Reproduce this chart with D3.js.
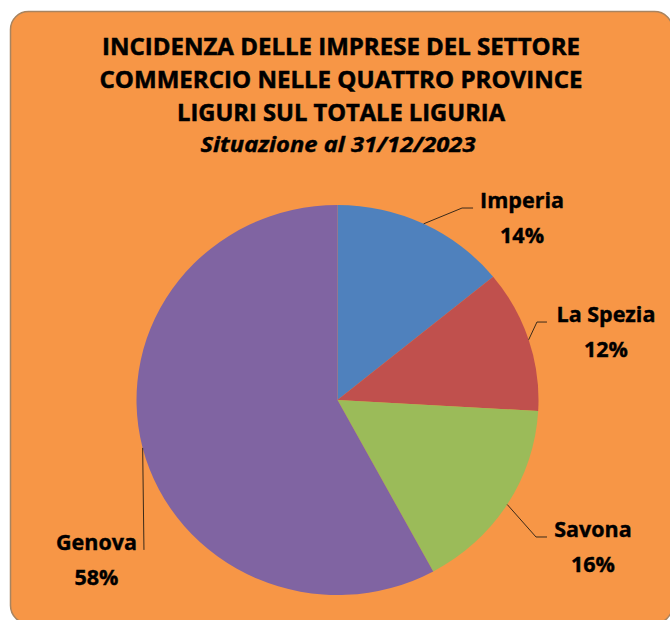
<!DOCTYPE html>
<html><head><meta charset="utf-8">
<script src="https://cdn.jsdelivr.net/npm/d3@7"></script>
<style>html,body{margin:0;padding:0;background:#fff;}svg{display:block;}</style>
</head><body>
<svg id="c" width="670" height="620"></svg>
<script>
const titleLines = ["INCIDENZA DELLE IMPRESE DEL SETTORE","COMMERCIO NELLE QUATTRO  PROVINCE","LIGURI SUL TOTALE LIGURIA"];
const subtitle = "Situazione al 31/12/2023";
const categories = ["Imperia","La Spezia","Savona","Genova"];
const values = [14.1, 11.8, 16.2, 57.9];
const colors = ["#4F81BD","#C0504D","#9BBB59","#8064A2"];

const svg = d3.select("#c");
const font = "'Open Sans', 'DejaVu Sans', sans-serif";

svg.append("rect").attr("x",10.5).attr("y",11.5).attr("width",662).attr("height",612)
  .attr("rx",18).attr("fill","#F79646").attr("stroke","#A88460").attr("stroke-width",1.5);

// title
const titleY = [55, 88, 121];
const titleW = [478, 483, 328];
const titleX = 341;
titleLines.forEach((t,i)=>{
  svg.append("text").attr("x",titleX).attr("y",titleY[i]).attr("text-anchor","middle")
    .attr("font-family",font).attr("font-weight","bold").attr("font-size",22.5)
    .attr("stroke","#000").attr("stroke-width",0.5)
    .attr("textLength",titleW[i]).attr("lengthAdjust","spacingAndGlyphs")
    .attr("fill","#000").text(t);
});
svg.append("text").attr("x",338).attr("y",152).attr("text-anchor","middle")
  .attr("font-family",font).attr("font-weight","bold").attr("font-style","italic").attr("font-size",21)
  .attr("stroke","#000").attr("stroke-width",0.4)
  .attr("textLength",275).attr("lengthAdjust","spacingAndGlyphs").text(subtitle);

// pie
const cx = 337.5, cy = 400, rx = 201, ry = 195;
const data = categories.map((c,i)=>({name:c, value:values[i], color:colors[i]}));
const pie = d3.pie().sort(null).value(d=>d.value);
const arcs = pie(data);
const arc = d3.arc().innerRadius(0).outerRadius(rx);
const g = svg.append("g").attr("transform",`translate(${cx},${cy}) scale(1,${ry/rx})`);
g.selectAll("path").data(arcs).join("path").attr("d",arc).attr("fill",d=>d.data.color);

// labels
const total = d3.sum(values);
const fmt = v => Math.round(v/total*100) + "%";
// elbow offsets relative to leader start point, and label text centre offsets
const layout = [
  {ex:38.4, ey:-15.8, hx:11, tx:98.4},
  {ex:8.3, ey:-17.7, hx:10, tx:77.3},
  {ex:28.8, ey:32.5, hx:11, tx:85.8},
  {ex:1.3, ey:102, hx:0, tx:-46.2}
];
arcs.forEach((a,i)=>{
  const m = (a.startAngle+a.endAngle)/2;
  const sx = cx + rx*Math.sin(m), sy = cy - ry*Math.cos(m);
  const L = layout[i];
  const ex = sx+L.ex, ey = sy+L.ey;
  svg.append("path").attr("d",`M${sx},${sy}L${ex},${ey}L${ex+L.hx},${ey}`)
    .attr("fill","none").attr("stroke","#3a2a1a").attr("stroke-width",1);
  const tx = sx+L.tx;
  const t = svg.append("text").attr("text-anchor","middle").attr("font-family",font)
    .attr("font-weight","bold").attr("font-size",21.5).attr("fill","#000")
    .attr("stroke","#000").attr("stroke-width",0.4);
  t.append("tspan").attr("x",tx).attr("y",ey).text(a.data.name);
  t.append("tspan").attr("x",tx).attr("y",ey+35).text(fmt(a.data.value));
});
</script>
</body></html>
